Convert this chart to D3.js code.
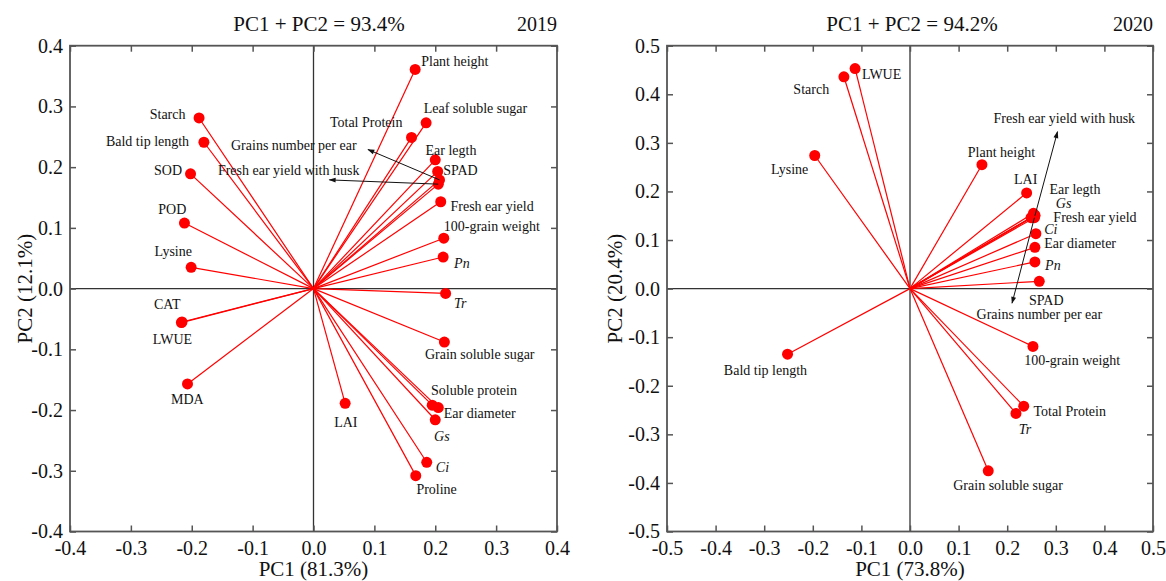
<!DOCTYPE html>
<html>
<head>
<meta charset="utf-8">
<script src="https://cdn.jsdelivr.net/npm/d3@7"></script>
<style>
  html, body { margin: 0; padding: 0; background: #fff; }
  svg { display: block; font-family: "Liberation Serif", "Times New Roman", serif; }
  svg text { font-family: "Liberation Serif", "Times New Roman", serif; }
</style>
</head>
<body>
<svg id="chart" width="1166" height="581"></svg>
<script>
// ---------------- 2019 data ----------------
const names2019 = ["Plant height","Leaf soluble sugar","Total Protein","Ear legth","SPAD",
  "Fresh ear yield with husk","Grains number per ear","Fresh ear yield","100-grain weight","Pn",
  "Tr","Grain soluble sugar","Soluble protein","Ear diameter","Gs","Ci","Proline","LAI",
  "MDA","CAT","LWUE","Lysine","POD","SOD","Bald tip length","Starch"];
const pc1_2019 = [0.167,0.185,0.161,0.200,0.204,0.205,0.207,0.209,0.214,0.213,
  0.217,0.215,0.195,0.205,0.200,0.186,0.168,0.052,
  -0.207,-0.217,-0.216,-0.201,-0.212,-0.202,-0.180,-0.188];
const pc2_2019 = [0.361,0.273,0.249,0.212,0.193,0.172,0.179,0.143,0.083,0.052,
  -0.008,-0.088,-0.192,-0.196,-0.216,-0.286,-0.308,-0.189,
  -0.157,-0.056,-0.055,0.035,0.108,0.189,0.241,0.281];
// label anchor points (data units, left edge of text)
const labelX2019 = [0.177,0.181,0.027,0.184,0.213,-0.157,-0.1355,0.225,0.214,0.231,
  0.231,0.183,0.193,0.214,0.198,0.201,0.169,0.034,
  -0.234,-0.262,-0.264,-0.261,-0.255,-0.262,-0.341,-0.269];
const labelY2019 = [0.374,0.297,0.273,0.228,0.194,0.194,0.235,0.135,0.103,0.042,
  -0.024,-0.108,-0.167,-0.206,-0.244,-0.295,-0.331,-0.221,
  -0.183,-0.027,-0.083,0.061,0.131,0.194,0.243,0.286];
const arrowFrom2019 = ["Grains number per ear","Fresh ear yield with husk"];
const arrowToX2019 = [0.0895, 0.026];
const arrowToY2019 = [0.229, 0.179];
const ticks2019 = [-0.4,-0.3,-0.2,-0.1,0.0,0.1,0.2,0.3,0.4];
const tickLabels2019 = ["-0.4","-0.3","-0.2","-0.1","0.0","0.1","0.2","0.3","0.4"];

// ---------------- 2020 data ----------------
const names2020 = ["LWUE","Starch","Lysine","Plant height","LAI","Ear legth","Gs","Fresh ear yield",
  "Fresh ear yield with husk","Grains number per ear","Ci","Ear diameter","Pn","SPAD",
  "100-grain weight","Total Protein","Tr","Grain soluble sugar","Bald tip length"];
const pc1_2020 = [-0.113,-0.136,-0.196,0.148,0.240,0.254,0.257,0.249,
  0.257,0.256,0.259,0.257,0.257,0.266,
  0.253,0.234,0.218,0.161,-0.252];
const pc2_2020 = [0.453,0.436,0.274,0.255,0.197,0.155,0.151,0.146,
  0.150,0.146,0.113,0.085,0.055,0.015,
  -0.119,-0.242,-0.257,-0.375,-0.135];
const labelX2020 = [-0.099,-0.240,-0.286,0.119,0.214,0.287,0.300,0.295,
  0.172,0.137,0.276,0.276,0.278,0.245,
  0.235,0.254,0.224,0.089,-0.383];
const labelY2020 = [0.440,0.409,0.246,0.280,0.224,0.205,0.176,0.146,
  0.351,-0.054,0.122,0.093,0.047,-0.025,
  -0.149,-0.253,-0.291,-0.406,-0.169];
const arrowFrom2020 = ["Fresh ear yield with husk","Grains number per ear"];
const arrowToX2020 = [0.3035, 0.210];
const arrowToY2020 = [0.323, -0.030];
const ticks2020 = [-0.5,-0.4,-0.3,-0.2,-0.1,0.0,0.1,0.2,0.3,0.4,0.5];
const tickLabels2020 = ["-0.5","-0.4","-0.3","-0.2","-0.1","0.0","0.1","0.2","0.3","0.4","0.5"];

const italicNames = ["Pn","Tr","Gs","Ci"];
const FONT = '"Liberation Serif", "Times New Roman", serif';

const svg = d3.select("#chart");
const defs = svg.append("defs");
defs.append("marker")
  .attr("id","arrowhead")
  .attr("viewBox","0 0 10 10")
  .attr("refX",9).attr("refY",5)
  .attr("markerWidth",9).attr("markerHeight",7)
  .attr("markerUnits","userSpaceOnUse")
  .attr("orient","auto")
  .append("path").attr("d","M0,1.5 L10,5 L0,8.5 Z").attr("fill","#111");

function drawPanel(cfg) {
  const x = d3.scaleLinear().domain(cfg.domain).range([cfg.left, cfg.right]);
  const y = d3.scaleLinear().domain(cfg.domain).range([cfg.bottom, cfg.top]);
  const g = svg.append("g");
  const tickFmt = v => cfg.tickLabels[cfg.ticks.indexOf(v)];

  // zero lines
  g.append("line").attr("x1", x(0)).attr("x2", x(0)).attr("y1", cfg.top).attr("y2", cfg.bottom)
    .attr("stroke","#333").attr("stroke-width",1.3);
  g.append("line").attr("x1", cfg.left).attr("x2", cfg.right).attr("y1", y(0)).attr("y2", y(0))
    .attr("stroke","#333").attr("stroke-width",1.3);

  // axes with inward ticks
  const bottomAxis = d3.axisBottom(x).tickValues(cfg.ticks).tickSize(-6).tickFormat(tickFmt).tickPadding(9);
  const topAxis = d3.axisTop(x).tickValues(cfg.ticks).tickSize(-6).tickFormat("");
  const leftAxis = d3.axisLeft(y).tickValues(cfg.ticks).tickSize(-6).tickFormat(tickFmt).tickPadding(7);
  const rightAxis = d3.axisRight(y).tickValues(cfg.ticks).tickSize(-6).tickFormat("");
  const styleAxis = sel => {
    sel.attr("font-family", FONT).attr("font-size", 20);
    sel.select(".domain").remove();
    sel.selectAll(".tick line").attr("stroke","#555").attr("stroke-width",1.5);
    sel.selectAll(".tick text").attr("fill","#111");
  };
  g.append("g").attr("transform",`translate(0,${cfg.bottom})`).call(bottomAxis).call(styleAxis);
  g.append("g").attr("transform",`translate(0,${cfg.top})`).call(topAxis).call(styleAxis);
  g.append("g").attr("transform",`translate(${cfg.left},0)`).call(leftAxis).call(styleAxis);
  g.append("g").attr("transform",`translate(${cfg.right},0)`).call(rightAxis).call(styleAxis);

  // frame
  g.append("rect").attr("x", cfg.left).attr("y", cfg.top)
    .attr("width", cfg.right - cfg.left).attr("height", cfg.bottom - cfg.top)
    .attr("fill","none").attr("stroke","#555").attr("stroke-width",1.8);

  const pts = cfg.names.map((n,i) => ({name:n, px:cfg.pc1[i], py:cfg.pc2[i], lx:cfg.lx[i], ly:cfg.ly[i]}));

  // red loading vectors
  g.append("g").selectAll("line").data(pts).join("line")
    .attr("x1", x(0)).attr("y1", y(0))
    .attr("x2", d => x(d.px)).attr("y2", d => y(d.py))
    .attr("stroke","#ff0000").attr("stroke-width",1.2);

  // dots
  g.append("g").selectAll("circle").data(pts).join("circle")
    .attr("cx", d => x(d.px)).attr("cy", d => y(d.py)).attr("r", 5.5)
    .attr("fill","#ff0000");

  // black arrows
  const arr = cfg.arrowFrom.map((n,i) => {
    const p = pts.find(q => q.name === n);
    return {x0:p.px, y0:p.py, x1:cfg.arrowToX[i], y1:cfg.arrowToY[i]};
  });
  g.append("g").selectAll("line").data(arr).join("line")
    .attr("x1", d => x(d.x0)).attr("y1", d => y(d.y0))
    .attr("x2", d => x(d.x1)).attr("y2", d => y(d.y1))
    .attr("stroke","#111").attr("stroke-width",1)
    .attr("marker-end","url(#arrowhead)");

  // labels
  g.append("g").selectAll("text").data(pts).join("text")
    .attr("x", d => x(d.lx)).attr("y", d => y(d.ly))
    .attr("dominant-baseline","central")
    .attr("font-family", FONT)
    .attr("font-size", 14)
    .attr("font-style", d => italicNames.includes(d.name) ? "italic" : "normal")
    .attr("fill","#111")
    .text(d => d.name);

  // titles
  g.append("text").attr("x", cfg.titleX).attr("y", 31).attr("text-anchor","middle")
    .attr("font-family", FONT).attr("font-size", 21).attr("fill","#111").text(cfg.title);
  g.append("text").attr("x", cfg.right).attr("y", 31).attr("text-anchor","end")
    .attr("font-family", FONT).attr("font-size", 20).attr("fill","#111").text(cfg.year);
  g.append("text").attr("x", x(0)).attr("y", 576).attr("text-anchor","middle")
    .attr("font-family", FONT).attr("font-size", 21).attr("fill","#111").text(cfg.xTitle);
  g.append("text")
    .attr("transform", `translate(${cfg.yTitleX},${(cfg.top + cfg.bottom)/2}) rotate(-90)`)
    .attr("text-anchor","middle").attr("dominant-baseline","central")
    .attr("font-family", FONT).attr("font-size", 21).attr("fill","#111").text(cfg.yTitle);
}

drawPanel({
  domain:[-0.4,0.4], left:70, right:557, top:45.7, bottom:531.5,
  ticks:ticks2019, tickLabels:tickLabels2019,
  names:names2019, pc1:pc1_2019, pc2:pc2_2019, lx:labelX2019, ly:labelY2019,
  arrowFrom:arrowFrom2019, arrowToX:arrowToX2019, arrowToY:arrowToY2019,
  title:"PC1 + PC2 = 93.4%", titleX:319, year:"2019",
  xTitle:"PC1 (81.3%)", yTitle:"PC2 (12.1%)", yTitleX:25
});
drawPanel({
  domain:[-0.5,0.5], left:667, right:1153, top:45.7, bottom:531.5,
  ticks:ticks2020, tickLabels:tickLabels2020,
  names:names2020, pc1:pc1_2020, pc2:pc2_2020, lx:labelX2020, ly:labelY2020,
  arrowFrom:arrowFrom2020, arrowToX:arrowToX2020, arrowToY:arrowToY2020,
  title:"PC1 + PC2 = 94.2%", titleX:912, year:"2020",
  xTitle:"PC1 (73.8%)", yTitle:"PC2 (20.4%)", yTitleX:615
});
</script>
</body>
</html>
